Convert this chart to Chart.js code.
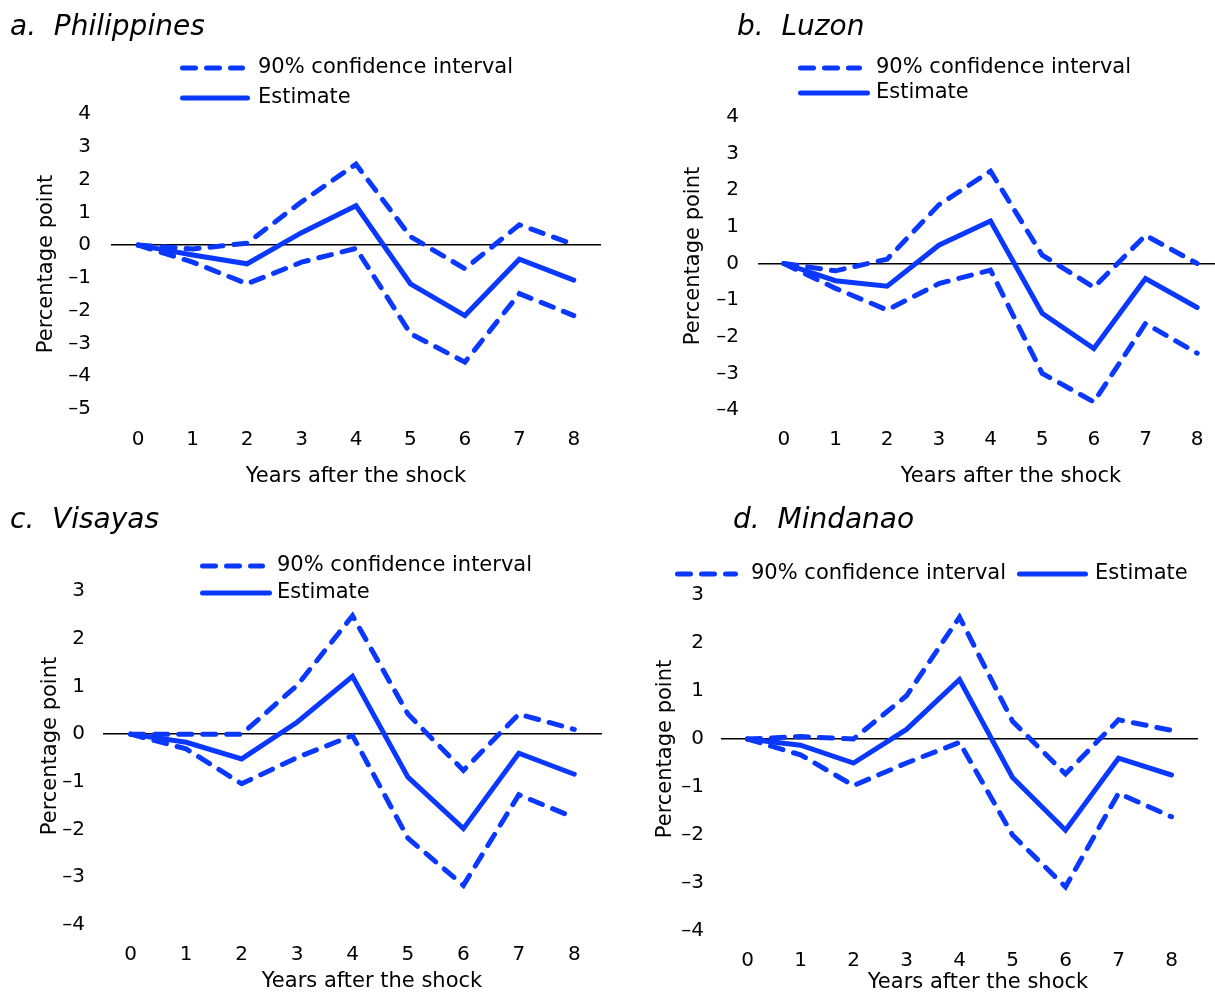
<!DOCTYPE html>
<html>
<head>
<meta charset="utf-8">
<script src="https://cdn.jsdelivr.net/npm/chart.js@4.4.1/dist/chart.umd.min.js"></script>
<style>
  html, body { margin: 0; padding: 0; background: #fff; overflow: hidden; }
  body { width: 1215px; height: 992px; position: relative; }
  canvas { position: absolute; }
</style>
</head>
<body>
<canvas id="chart-a" width="610" height="492" style="left:0;top:0"></canvas>
<canvas id="chart-b" width="620" height="492" style="left:607px;top:0"></canvas>
<canvas id="chart-c" width="610" height="498" style="left:0;top:495px"></canvas>
<canvas id="chart-d" width="610" height="498" style="left:607px;top:495px"></canvas>
<script>
// years after the shock
const years = ['0', '1', '2', '3', '4', '5', '6', '7', '8'];

// a. Philippines
const phEstimate = [0, -0.3, -0.57, 0.38, 1.2, -1.18, -2.15, -0.43, -1.07];
const phUpper = [0, -0.12, 0.06, 1.32, 2.47, 0.26, -0.72, 0.62, 0.02];
const phLower = [0, -0.52, -1.18, -0.52, -0.1, -2.7, -3.57, -1.48, -2.15];
const phRange = [-5, 4];

// b. Luzon
const luEstimate = [0, -0.47, -0.62, 0.5, 1.16, -1.36, -2.32, -0.41, -1.2];
const luUpper = [0, -0.2, 0.12, 1.6, 2.52, 0.23, -0.65, 0.77, 0];
const luLower = [0, -0.68, -1.27, -0.55, -0.18, -3.0, -3.78, -1.64, -2.45];
const luRange = [-4, 4];

// c. Visayas
const viEstimate = [0, -0.17, -0.52, 0.25, 1.21, -0.9, -1.98, -0.4, -0.84];
const viUpper = [0, 0, 0, 1.02, 2.48, 0.42, -0.76, 0.42, 0.1];
const viLower = [0, -0.31, -1.04, -0.49, -0.03, -2.18, -3.17, -1.27, -1.75];
const viRange = [-4, 3];

// d. Mindanao
const miEstimate = [0, -0.13, -0.5, 0.2, 1.24, -0.8, -1.9, -0.4, -0.75];
const miUpper = [0, 0.05, 0, 0.9, 2.54, 0.37, -0.73, 0.4, 0.18];
const miLower = [0, -0.33, -0.97, -0.5, -0.07, -2.0, -3.08, -1.13, -1.62];
const miRange = [-4, 3];

const FONT = "'DejaVu Sans', sans-serif";
const BLUE = '#0a38ff';
const DASH = [13, 11];

// panel title, legend and axis titles, drawn on top of each chart
const annotations = {
  id: 'annotations',
  afterDraw(chart, args, opts) {
    const ctx = chart.ctx;
    ctx.save();
    ctx.fillStyle = '#000';
    ctx.textBaseline = 'middle';
    ctx.textAlign = 'left';
    ctx.font = 'italic 28px ' + FONT;
    ctx.fillText(opts.title, opts.titlePos[0], opts.titlePos[1]);

    ctx.font = '21px ' + FONT;
    opts.legend.forEach(item => {
      ctx.save();
      ctx.strokeStyle = BLUE;
      ctx.lineWidth = 5;
      ctx.lineCap = 'round';
      ctx.setLineDash(item.dashed ? DASH : []);
      ctx.beginPath();
      ctx.moveTo(item.x0 + 2.5, item.y);
      ctx.lineTo(item.x1 - 2.5, item.y);
      ctx.stroke();
      ctx.restore();
      ctx.fillText(item.text, item.tx, item.y);
    });

    ctx.textAlign = 'center';
    ctx.fillText('Years after the shock', opts.xTitlePos[0], opts.xTitlePos[1]);

    ctx.translate(opts.yTitlePos[0], opts.yTitlePos[1]);
    ctx.rotate(-Math.PI / 2);
    ctx.fillText('Percentage point', 0, 0);
    ctx.restore();
  }
};

function minusLabel(v) {
  return v < 0 ? '\u2013' + Math.abs(v) : String(v);
}

function series(label, data, dashed) {
  return {
    label: label,
    data: data,
    borderColor: BLUE,
    borderWidth: 5,
    borderDash: dashed ? DASH : [],
    borderCapStyle: 'round',
    pointRadius: 0,
    tension: 0
  };
}

function makeChart(id, est, upper, lower, range, box) {
  new Chart(document.getElementById(id), {
    type: 'line',
    data: {
      labels: years,
      datasets: [
        series('90% confidence interval', upper, true),
        series('Estimate', est, false),
        series('90% confidence interval (lower)', lower, true)
      ]
    },
    options: {
      responsive: false,
      animation: false,
      layout: { padding: box.padding },
      plugins: {
        legend: { display: false },
        tooltip: { enabled: false },
        annotations: box.notes
      },
      scales: {
        x: {
          type: 'category',
          offset: true,
          grid: { display: false },
          border: { display: false },
          ticks: {
            color: '#000',
            font: { family: FONT, size: 20 },
            padding: box.xTickPad,
            maxRotation: 0,
            autoSkip: false
          },
          afterFit: s => { s.height = box.xH; }
        },
        y: {
          min: range[0],
          max: range[1],
          border: { display: false },
          grid: {
            drawTicks: false,
            lineWidth: 1.5,
            color: c => c.tick.value === 0 ? '#000' : 'rgba(0,0,0,0)'
          },
          ticks: {
            stepSize: 1,
            color: '#000',
            font: { family: FONT, size: 20 },
            padding: box.yTickPad,
            callback: minusLabel
          },
          afterFit: s => { s.width = box.yW; }
        }
      }
    },
    plugins: [annotations]
  });
}

makeChart('chart-a', phEstimate, phUpper, phLower, phRange, {
  padding: { left: 0, top: 114, right: 9, bottom: 0 },
  yW: 111, xH: 83, xTickPad: 11, yTickPad: 20,
  notes: {
    title: 'a.  Philippines', titlePos: [10, 28],
    legend: [
      { dashed: true, x0: 180, x1: 245, y: 68, tx: 258, text: '90% confidence interval' },
      { dashed: false, x0: 180, x1: 250, y: 98, tx: 258, text: 'Estimate' }
    ],
    xTitlePos: [356, 477],
    yTitlePos: [47, 264]
  }
});

makeChart('chart-b', luEstimate, luUpper, luLower, luRange, {
  padding: { left: 0, top: 117, right: 4, bottom: 0 },
  yW: 151, xH: 82, xTickPad: 10, yTickPad: 19,
  notes: {
    title: 'b.  Luzon', titlePos: [130, 28],
    legend: [
      { dashed: true, x0: 191, x1: 255, y: 68, tx: 269, text: '90% confidence interval' },
      { dashed: false, x0: 191, x1: 263, y: 93, tx: 269, text: 'Estimate' }
    ],
    xTitlePos: [404, 477],
    yTitlePos: [87, 256]
  }
});

makeChart('chart-c', viEstimate, viUpper, viLower, viRange, {
  padding: { left: 0, top: 96, right: 8, bottom: 0 },
  yW: 103, xH: 68, xTickPad: 10, yTickPad: 18,
  notes: {
    title: 'c.  Visayas', titlePos: [10, 26],
    legend: [
      { dashed: true, x0: 200, x1: 265, y: 71, tx: 277, text: '90% confidence interval' },
      { dashed: false, x0: 200, x1: 272, y: 98, tx: 277, text: 'Estimate' }
    ],
    xTitlePos: [372, 487],
    yTitlePos: [51, 251]
  }
});

makeChart('chart-d', miEstimate, miUpper, miLower, miRange, {
  padding: { left: 0, top: 100, right: 19, bottom: 0 },
  yW: 114, xH: 62, xTickPad: 10, yTickPad: 17,
  notes: {
    title: 'd.  Mindanao', titlePos: [126, 26],
    legend: [
      { dashed: true, x0: 68, x1: 131, y: 79, tx: 144, text: '90% confidence interval' },
      { dashed: false, x0: 410, x1: 481, y: 79, tx: 488, text: 'Estimate' }
    ],
    xTitlePos: [371, 488],
    yTitlePos: [59, 254]
  }
});
</script>
</body>
</html>
